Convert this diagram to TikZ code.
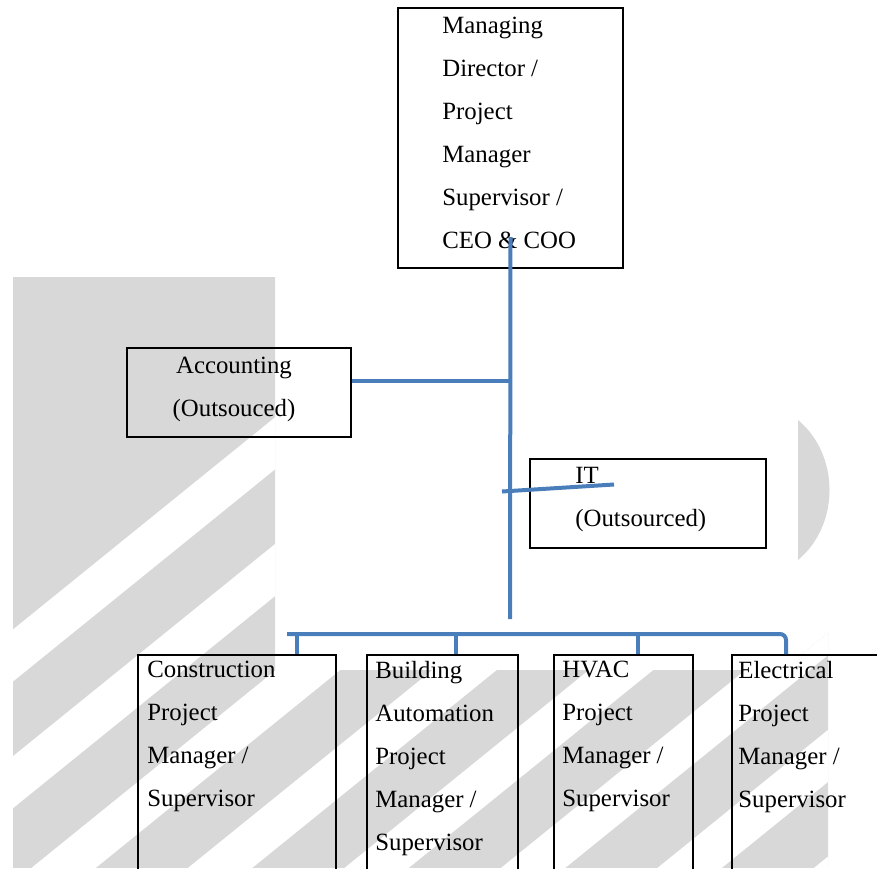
\documentclass[tikz,border=0pt]{standalone}
\usepackage{fontspec}
\setmainfont{Liberation Serif}
\usetikzlibrary{positioning,calc}
\definecolor{linkblue}{RGB}{74,126,187}
\definecolor{wmgrey}{RGB}{216,216,216}

\begin{document}
\begin{tikzpicture}[
  x=0.5pt, y=-0.5pt,
  postbox/.style={draw,line width=1pt,inner sep=0pt,anchor=north west},
  txt/.style={inner sep=0pt,align=left,font=\fontsize{12.4}{21.5}\selectfont},
  link/.style={draw=linkblue,line width=2pt},
  wm/.style={fill=wmgrey}
]
\useasboundingbox (0,0) rectangle (877,868);
\clip (0,0) rectangle (877,868);

% watermark behind the chart
\begin{scope}
  \clip (13,277) -- (275,277) -- (275,670) -- (798,670) -- (798,657)
    -- (828,633) -- (828,868) -- (13,868) -- cycle;
  \fill[wm] (0,0) rectangle (877,868);
  \foreach \k in {0,...,8}{
    \pgfmathsetmacro\ca{640+126.7*\k}
    \pgfmathsetmacro\cb{\ca+52}
    \fill[white] (0,\ca) -- (877,\ca-710) -- (877,\cb-710) -- (0,\cb) -- cycle;
  }
\end{scope}
\fill[wm] (798,420) .. controls (840,455) and (840,525) .. (798,560) -- cycle;

% boxes
\node[postbox,minimum width=112.5pt,minimum height=130pt] (md) at (397,7) {};
\node[postbox,minimum width=112pt,minimum height=44.5pt] (acc) at (126,347) {};
\node[postbox,minimum width=118pt,minimum height=44.5pt] (it) at (529,458) {};
\node[postbox,minimum width=99pt,minimum height=125pt] (cpm) at (137,654) {};
\node[postbox,minimum width=75.5pt,minimum height=125pt] (bapm) at (366,654) {};
\node[postbox,minimum width=69.5pt,minimum height=125pt] (hpm) at (553,654) {};
\node[postbox,minimum width=90pt,minimum height=125pt] (epm) at (731,654) {};

% texts
\node[txt,below right=5pt and 22.5pt of md.north west] (mdtext)
  {Managing\\Director /\\Project\\Manager\\Supervisor /\\CEO \& COO};
\node[txt,align=center] (acctext) at ([xshift=-2.5pt,yshift=1.75pt]acc.center)
  {Accounting\\(Outsouced)};
\node[txt,below right=4.5pt and 23pt of it.north west] (ittext) {IT\\(Outsourced)};
\node[txt,below right=3.5pt and 5pt of cpm.north west] (cpmtext)
  {Construction\\Project\\Manager /\\Supervisor};
\node[txt,below right=3.5pt and 4.5pt of bapm.north west] (bapmtext)
  {Building\\Automation\\Project\\Manager /\\Supervisor};
\node[txt,below right=3.5pt and 4.5pt of hpm.north west] (hpmtext)
  {HVAC\\Project\\Manager /\\Supervisor};
\node[txt,below right=3.5pt and 3.5pt of epm.north west] (epmtext)
  {Electrical\\Project\\Manager /\\Supervisor};

% connectors
\coordinate (trunkend) at (510,619);
\coordinate (bus) at (287,634);
\draw[link] ([yshift=16pt]md.south) -- (trunkend);
\draw[link] ([yshift=6pt]acc.east) -- ([yshift=6pt]acc.east -| md.south);
\draw[link] (it.west) ++(-27,-12) -- ++(112,-7);
\draw[link,rounded corners=3pt] (bus) -| ([xshift=27.5pt]epm.north west);
\foreach \nd/\dx in {cpm/80,bapm/45,hpm/42.5}
  \draw[link] ([xshift=\dx pt]\nd.north west) -- ([xshift=\dx pt]\nd.north west |- bus);
\end{tikzpicture}
\end{document}
